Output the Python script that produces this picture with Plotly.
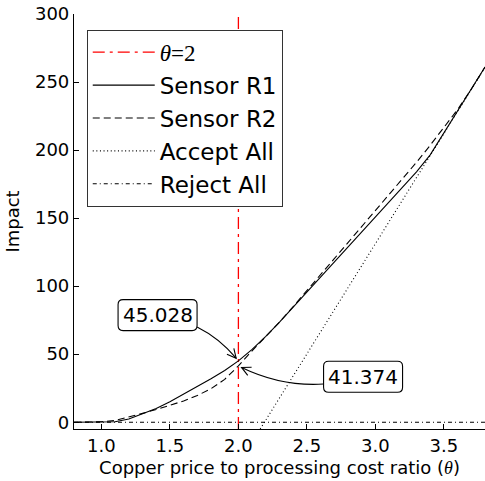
import plotly.graph_objects as go
import math

# ---------------- data ----------------
theta = [0.8, 0.9, 1.0, 1.1, 1.2, 1.3, 1.4, 1.5, 1.6, 1.7, 1.8, 1.9, 2.0,
         2.1, 2.2, 2.3, 2.4, 2.5, 2.6, 2.7, 2.8, 2.9, 3.0, 3.1, 3.2, 3.3,
         3.4, 3.5, 3.6, 3.7, 3.8]
sensor_r1 = [0.0, 0.0, 0.1, 0.3, 2.3, 6.0, 10.0, 15.0, 20.5, 26.0, 32.0, 38.0, 45.028,
             53.5, 63.0, 73.5, 84.5, 95.5, 106.5, 117.5, 128.5, 139.5, 150.5, 161.5, 172.5, 184.0,
             196.5, 212.5, 228.5, 244.7, 261.0]
sensor_r2 = [0.0, 0.0, 0.3, 1.2, 3.7, 6.5, 9.3, 12.3, 15.6, 19.6, 24.6, 31.5, 41.374,
             52.5, 63.0, 73.5, 85.0, 96.5, 108.3, 120.2, 132.0, 143.8, 155.5, 167.2, 179.0, 191.0,
             203.5, 216.5, 229.8, 244.7, 261.0]
accept_all = [-225.2, -209.0, -192.8, -176.6, -160.4, -144.2, -128.0, -111.8, -95.6, -79.4, -63.2, -47.0, -30.8,
              -14.6, 1.6, 17.8, 34.0, 50.2, 66.4, 82.6, 98.8, 115.0, 131.2, 147.4, 163.6, 179.8,
              196.0, 212.2, 228.4, 244.6, 260.8]
reject_all = [0.0, 0.0, 0.0, 0.0, 0.0, 0.0, 0.0, 0.0, 0.0, 0.0, 0.0, 0.0, 0.0,
              0.0, 0.0, 0.0, 0.0, 0.0, 0.0, 0.0, 0.0, 0.0, 0.0, 0.0, 0.0, 0.0,
              0.0, 0.0, 0.0, 0.0, 0.0]
THETA_REF = 2.0
xtick_vals = [1.0, 1.5, 2.0, 2.5, 3.0, 3.5]
xtick_text = ["1.0", "1.5", "2.0", "2.5", "3.0", "3.5"]
ytick_vals = [0, 50, 100, 150, 200, 250, 300]
ytick_text = ["0", "50", "100", "150", "200", "250", "300"]
series_names = ["Sensor R1", "Sensor R2", "Accept All", "Reject All"]

# ---------------- layout constants ----------------
W, H = 485, 481
ML, MR, MT, MB = 74, 0, 14, 52
X0, X1 = 0.8, 3.8
Y0, Y1 = -5, 300
PW, PH = W - ML - MR, H - MT - MB
FONT = "DejaVu Sans"
SERIF = "Liberation Serif"


def to_px(x, y):
    return (ML + (x - X0) / (X1 - X0) * PW, MT + (Y1 - y) / (Y1 - Y0) * PH)


def to_data(px, py):
    return (X0 + (px - ML) / PW * (X1 - X0), Y1 - (py - MT) / PH * (Y1 - Y0))


def fmt(px, py):
    x, y = to_data(px, py)
    return f"{x:.5f},{y:.4f}"


fig = go.Figure()

ref_idx = theta.index(THETA_REF)
fig.add_trace(go.Scatter(
    x=[THETA_REF, THETA_REF], y=[Y0, Y1], mode="lines",
    line=dict(color="red", width=1.3, dash="12px,5px,3px,5px"),
    name=f'<span style="font-family:{SERIF}"><i>θ</i>=2</span>',
    legendgroup="g0"))
styles = [
    dict(color="black", width=1.1),
    dict(color="black", width=1.1, dash="7px,4px"),
    dict(color="black", width=1.1, dash="1px,2.6px"),
    dict(color="black", width=1.1, dash="4px,3px,1px,3px"),
]
for i, (name, vals) in enumerate(zip(series_names, [sensor_r1, sensor_r2, accept_all, reject_all])):
    fig.add_trace(go.Scatter(x=theta, y=vals, mode="lines", line=styles[i],
                             name=name, legendgroup=f"g{i+1}"))

# ---------------- callouts with curved arrows ----------------
label_pos = [(1.41, 78.7), (2.91, 33.4)]
targets = [(THETA_REF, sensor_r1[ref_idx]), (THETA_REF, sensor_r2[ref_idx])]
HWB, HHB, RB = 39.5, 15.5, 5.0
RAD, SHRINK, HL, HWA = 0.2, 3.5, 9.0, 4.5

shapes = []
annotations = []
for (lx, ly), (tx, ty) in zip(label_pos, targets):
    P0 = to_px(lx, ly)
    P2 = to_px(tx, ty)
    dx, dy = P2[0] - P0[0], P2[1] - P0[1]
    M = ((P0[0] + P2[0]) / 2, (P0[1] + P2[1]) / 2)
    C = (M[0] + RAD * dy, M[1] - RAD * dx)

    def B(t):
        return ((1 - t) ** 2 * P0[0] + 2 * t * (1 - t) * C[0] + t * t * P2[0],
                (1 - t) ** 2 * P0[1] + 2 * t * (1 - t) * C[1] + t * t * P2[1])

    N = 4000
    ta = 0.0
    for k in range(N + 1):
        t = k / N
        p = B(t)
        if abs(p[0] - P0[0]) > HWB or abs(p[1] - P0[1]) > HHB:
            ta = t
            break
    tb = 1.0
    for k in range(N, -1, -1):
        t = k / N
        p = B(t)
        if math.hypot(p[0] - P2[0], p[1] - P2[1]) >= SHRINK:
            tb = t
            break
    Sa, Sb = B(ta), B(tb)
    Ca = (Sa[0] + (tb - ta) * ((1 - ta) * (C[0] - P0[0]) + ta * (P2[0] - C[0])),
          Sa[1] + (tb - ta) * ((1 - ta) * (C[1] - P0[1]) + ta * (P2[1] - C[1])))
    shapes.append(dict(type="path", xref="x", yref="y", layer="above",
                       path=f"M{fmt(*Sa)} Q{fmt(*Ca)} {fmt(*Sb)}",
                       line=dict(color="black", width=1.1)))
    ux, uy = Sb[0] - Ca[0], Sb[1] - Ca[1]
    L = math.hypot(ux, uy)
    ux, uy = ux / L, uy / L
    nx, ny = -uy, ux
    h1 = (Sb[0] - HL * ux + HWA * nx, Sb[1] - HL * uy + HWA * ny)
    h2 = (Sb[0] - HL * ux - HWA * nx, Sb[1] - HL * uy - HWA * ny)
    shapes.append(dict(type="path", xref="x", yref="y", layer="above",
                       path=f"M{fmt(*h1)} L{fmt(*Sb)} L{fmt(*h2)}",
                       line=dict(color="black", width=1.1)))
    # rounded box
    x0, x1 = P0[0] - HWB, P0[0] + HWB
    y0, y1 = P0[1] - HHB, P0[1] + HHB
    r = RB
    path = (f"M{fmt(x0 + r, y0)} L{fmt(x1 - r, y0)} Q{fmt(x1, y0)} {fmt(x1, y0 + r)} "
            f"L{fmt(x1, y1 - r)} Q{fmt(x1, y1)} {fmt(x1 - r, y1)} "
            f"L{fmt(x0 + r, y1)} Q{fmt(x0, y1)} {fmt(x0, y1 - r)} "
            f"L{fmt(x0, y0 + r)} Q{fmt(x0, y0)} {fmt(x0 + r, y0)} Z")
    shapes.append(dict(type="path", xref="x", yref="y", layer="above", path=path,
                       fillcolor="white", line=dict(color="black", width=1.1)))
    annotations.append(dict(x=lx, y=ly, xref="x", yref="y", text=f"{ty:.3f}",
                            showarrow=False, font=dict(family=FONT, size=20, color="black"),
                            xanchor="center", yanchor="middle"))

axis_common = dict(showline=True, linecolor="black", linewidth=1.2, mirror=False,
                   showgrid=False, zeroline=False, ticks="inside", ticklen=5,
                   tickwidth=1, tickcolor="black",
                   tickfont=dict(family=FONT, size=18, color="black"))

fig.update_layout(
    width=W, height=H,
    margin=dict(l=ML, r=MR, t=MT, b=MB, autoexpand=False),
    paper_bgcolor="white", plot_bgcolor="white",
    font=dict(family=FONT, color="black"),
    xaxis=dict(range=[X0, X1], tickvals=xtick_vals, ticktext=xtick_text,
               title=dict(text=f'Copper price to processing cost ratio (<span style="font-family:{SERIF}"><i>θ</i></span>)',
                          font=dict(family=FONT, size=18, color="black"), standoff=6),
               **axis_common),
    yaxis=dict(range=[Y0, Y1], tickvals=ytick_vals, ticktext=ytick_text,
               title=dict(text="Impact", font=dict(family=FONT, size=18, color="black"), standoff=10),
               **axis_common),
    legend=dict(x=0.031, y=0.962, xanchor="left", yanchor="top",
                bgcolor="white", bordercolor="#333333", borderwidth=1,
                font=dict(family=FONT, size=23, color="black"),
                tracegroupgap=0, itemwidth=62),
    shapes=shapes,
    annotations=annotations,
)

fig.write_html("out.html", config={"displayModeBar": False},
               post_script="document.body.style.margin='0';")
